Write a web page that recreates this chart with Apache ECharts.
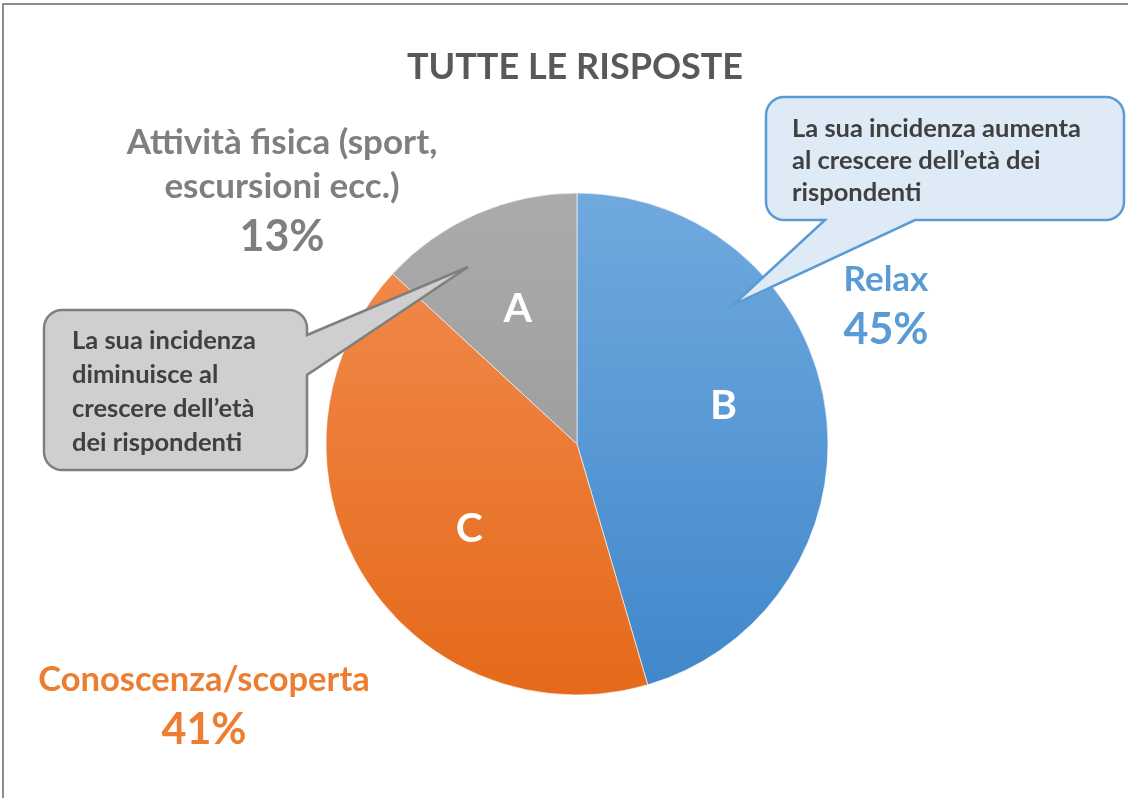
<!DOCTYPE html>
<html>
<head>
<meta charset="utf-8">
<script src="https://cdn.jsdelivr.net/npm/echarts@6/dist/echarts.min.js"></script>
<style>
  html, body { margin: 0; padding: 0; background: #fff; }
  #chart { width: 1128px; height: 798px; }
</style>
</head>
<body>
<div id="chart"></div>
<script>
const titleText = 'TUTTE LE RISPOSTE';
const categories = ['Relax', 'Conoscenza/scoperta', 'Attività fisica (sport,\nescursioni ecc.)'];
const values = [45, 41, 13];
const letters = ['B', 'C', 'A'];
const labelColors = ['#5b9bd5', '#ed7d31', '#7f7f7f'];
const gradTop = ['#70a9de', '#f28e52', '#ababab'];
const gradBottom = ['#3f87cb', '#e5691a', '#939393'];
const notes = [
  'La sua incidenza aumenta\nal crescere dell’età dei\nrispondenti',
  'La sua incidenza\ndiminuisce al\ncrescere dell’età\ndei rispondenti'
];

const FONT = 'Lato';
const cx = 577, cy = 444, R = 251;

// bubble outline with rounded corners and a pointer tail
function bubble(x0, y0, x1, y1, r, side, tail) {
  const pts = [];
  const arc = (ox, oy, a0, a1) => {
    for (let i = 0; i <= 8; i++) {
      const a = (a0 + (a1 - a0) * i / 8) * Math.PI / 180;
      pts.push([ox + r * Math.cos(a), oy + r * Math.sin(a)]);
    }
  };
  arc(x0 + r, y0 + r, 180, 270);
  arc(x1 - r, y0 + r, 270, 360);
  if (side === 'right') tail.forEach(p => pts.push(p));
  arc(x1 - r, y1 - r, 0, 90);
  if (side === 'bottom') tail.forEach(p => pts.push(p));
  arc(x0 + r, y1 - r, 90, 180);
  return pts;
}

const grad = i => ({
  type: 'linear', x: 0, y: cy - R, x2: 0, y2: cy + R, global: true,
  colorStops: [{ offset: 0, color: gradTop[i] }, { offset: 1, color: gradBottom[i] }]
});

// nudge the letters a bit, as in the original
// B goes up (extra empty line below), C goes right and a little down
const letterText = [l => l + '\n ', l => ' \n' + l, l => l];
const letterLabel = [
  { lineHeight: 34 },
  { lineHeight: 14, padding: [0, 0, 0, 36] },
  {}
];

// outside labels (name + percent), placed like the original
const labelPos = [[886, 258], [204, 658], [282, 121]];
const labelTexts = categories.map((name, i) => ({
  type: 'text',
  x: labelPos[i][0], y: labelPos[i][1],
  z: 50,
  silent: true,
  style: {
    text: name.split('\n').map(s => '{n|' + s + '}').join('\n') + '\n{v|' + values[i] + '%}',
    textAlign: 'center',
    textVerticalAlign: 'top',
    fill: labelColors[i],
    rich: {
      n: { fontFamily: FONT, fontWeight: 'bold', fontSize: i === 1 ? 34.5 : 35, lineHeight: 44, fill: labelColors[i], align: 'center' },
      v: { fontFamily: FONT, fontWeight: 'bold', fontSize: 43, lineHeight: 56, fill: labelColors[i], align: 'center' }
    }
  }
}));

const chart = echarts.init(document.getElementById('chart'));
chart.setOption({
  backgroundColor: '#fff',
  animation: false,
  title: {
    text: titleText,
    left: 570, top: 44, textAlign: 'center',
    textStyle: { fontFamily: FONT, fontWeight: 'bold', fontSize: 36, color: '#595959' }
  },
  series: [{
    type: 'pie',
    center: [cx, cy],
    radius: [0, R],
    startAngle: 90,
    clockwise: true,
    silent: true,
    label: { show: false },
    labelLine: { show: false },
    itemStyle: { borderColor: 'rgba(255,255,255,0.6)', borderWidth: 1 },
    data: categories.map((name, i) => ({ name, value: values[i], itemStyle: { color: grad(i) } }))
  }, {
    type: 'pie',
    center: [cx, cy],
    radius: [40, 250],
    startAngle: 90,
    clockwise: true,
    silent: true,
    z: 5,
    itemStyle: { color: 'rgba(0,0,0,0)' },
    label: {
      show: true, position: 'inside',
      formatter: p => letterText[p.dataIndex](letters[p.dataIndex]),
      color: '#fff', fontFamily: FONT, fontWeight: 'bold', fontSize: 41
    },
    labelLine: { show: false },
    data: categories.map((name, i) => ({ name, value: values[i], label: letterLabel[i] }))
  }],
  graphic: [
    {
      type: 'rect', z: 1, silent: true,
      shape: { x: 3, y: 4, width: 1300, height: 1000 },
      style: { fill: 'none', stroke: '#8c8c8c', lineWidth: 2 }
    },
    {
      type: 'polygon', z: 60, silent: true,
      shape: { points: bubble(766, 97, 1124, 220, 18, 'bottom', [[915, 220], [733, 305], [825, 220]]) },
      style: { fill: '#deebf7', stroke: '#5b9bd5', lineWidth: 2.5 }
    },
    {
      type: 'text', z: 61, x: 792, y: 113, silent: true,
      style: { text: notes[0], fontFamily: FONT, fontWeight: 'bold', fontSize: 25.5, lineHeight: 32, fill: '#404040' }
    },
    {
      type: 'polygon', z: 60, silent: true,
      shape: { points: bubble(44, 310, 307, 470, 18, 'right', [[307, 335], [468, 267], [307, 375]]) },
      style: { fill: '#d0cece', stroke: '#7f7f7f', lineWidth: 2.5 }
    },
    {
      type: 'text', z: 61, x: 72, y: 324, silent: true,
      style: { text: notes[1], fontFamily: FONT, fontWeight: 'bold', fontSize: 25.5, lineHeight: 34, fill: '#404040' }
    }
  ].concat(labelTexts)
});
</script>
</body>
</html>
